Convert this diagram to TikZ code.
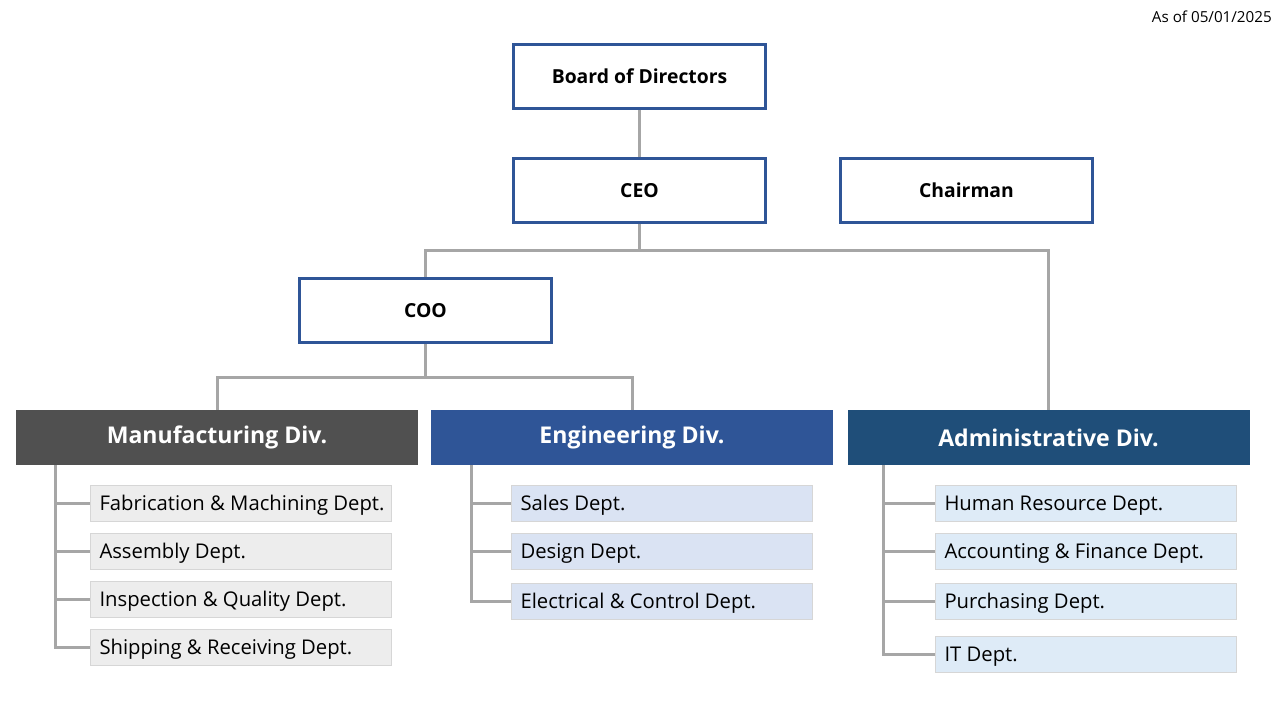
\documentclass[tikz,border=0pt]{standalone}
\usepackage{fontspec}
\setmainfont{Open Sans}
\usetikzlibrary{positioning}

\definecolor{boxline}{RGB}{47,85,151}
\definecolor{linkgray}{RGB}{166,166,166}
\definecolor{mfgfill}{RGB}{80,80,80}
\definecolor{engfill}{RGB}{47,85,151}
\definecolor{admfill}{RGB}{31,78,121}
\definecolor{mfgdept}{RGB}{237,237,237}
\definecolor{engdept}{RGB}{218,227,243}
\definecolor{admdept}{RGB}{222,235,247}
\definecolor{deptline}{RGB}{214,214,214}

\begin{document}
\begin{tikzpicture}[x=0.75pt,y=-0.75pt,
    head/.style={draw=boxline,line width=2.25pt,fill=white,minimum width=189pt,minimum height=48pt,font=\bfseries\fontsize{14.5}{17}\selectfont},
    div/.style={text=white,minimum width=301.5pt,minimum height=41.25pt,inner sep=0pt,font=\bfseries\fontsize{17.3}{20}\selectfont},
    dept/.style={draw=deptline,line width=0.75pt,anchor=west,minimum height=27pt,inner xsep=6.75pt,inner ysep=0pt,font=\fontsize{15.2}{18}\selectfont,
        execute at begin node={\hbox to 212pt\bgroup\rule[-4.2pt]{0pt}{19.2pt}},execute at end node={\hss\egroup}},
    link/.style={draw=linkgray,line width=2.25pt}]
    \useasboundingbox (0,0) rectangle (1280,720);

    \node[anchor=east,inner sep=0pt,font=\fontsize{11.4}{13}\selectfont] (asof) at (1272,17) {As of 05/01/2025};

    % top
    \node[head] (board) at (639.5,76.5) {Board of Directors};
    \node[head] (ceo) at (639.5,190.5) {CEO};
    \node[head] (chair) at (966.5,190.5) {Chairman};
    \node[head] (coo) at (425.5,310.5) {COO};

    % divisions
    \node[div,fill=mfgfill] (mfg) at (217,437.5) {Manufacturing Div.};
    \node[div,fill=engfill] (eng) at (632,437.5) {Engineering Div.};
    \node[div,fill=admfill] (adm) at (1048.5,437.5) {Administrative Div.};

    % departments
    \node[dept,fill=mfgdept] (fab) at (90,503) {Fabrication \& Machining Dept.};
    \node[dept,fill=mfgdept] (asm) at (90,551) {Assembly Dept.};
    \node[dept,fill=mfgdept] (insp) at (90,599) {Inspection \& Quality Dept.};
    \node[dept,fill=mfgdept] (ship) at (90,647.5) {Shipping \& Receiving Dept.};

    \node[dept,fill=engdept] (sales) at (511,503) {Sales Dept.};
    \node[dept,fill=engdept] (design) at (511,551.5) {Design Dept.};
    \node[dept,fill=engdept] (elec) at (511,601.5) {Electrical \& Control Dept.};

    \node[dept,fill=admdept] (hr) at (935,503) {Human Resource Dept.};
    \node[dept,fill=admdept] (acct) at (935,551.5) {Accounting \& Finance Dept.};
    \node[dept,fill=admdept] (purch) at (935,601.5) {Purchasing Dept.};
    \node[dept,fill=admdept] (it) at (935,654) {IT Dept.};

    \coordinate (topbus) at (639.5,250);
    \coordinate (coobus) at (425.5,377);
    \coordinate (mfgtrunk) at (55,465);
    \coordinate (engtrunk) at (471,465);
    \coordinate (admtrunk) at (883,465);

    % links
    \path[link] (board) edge (ceo);
    \draw[link] (ceo) -- (topbus) -| (coo.north);
    \draw[link] (topbus) -| (adm.north);
    \draw[link] (coo) -- (coobus) -| (mfg.north);
    \draw[link] (coobus) -| (eng.north);

    \draw[link] (mfgtrunk) |- (fab.west) (mfgtrunk) |- (asm.west)
                (mfgtrunk) |- (insp.west) (mfgtrunk) |- (ship.west);
    \draw[link] (engtrunk) |- (sales.west) (engtrunk) |- (design.west)
                (engtrunk) |- (elec.west);
    \draw[link] (admtrunk) |- (hr.west) (admtrunk) |- (acct.west)
                (admtrunk) |- (purch.west) (admtrunk) |- (it.west);
\end{tikzpicture}
\end{document}
